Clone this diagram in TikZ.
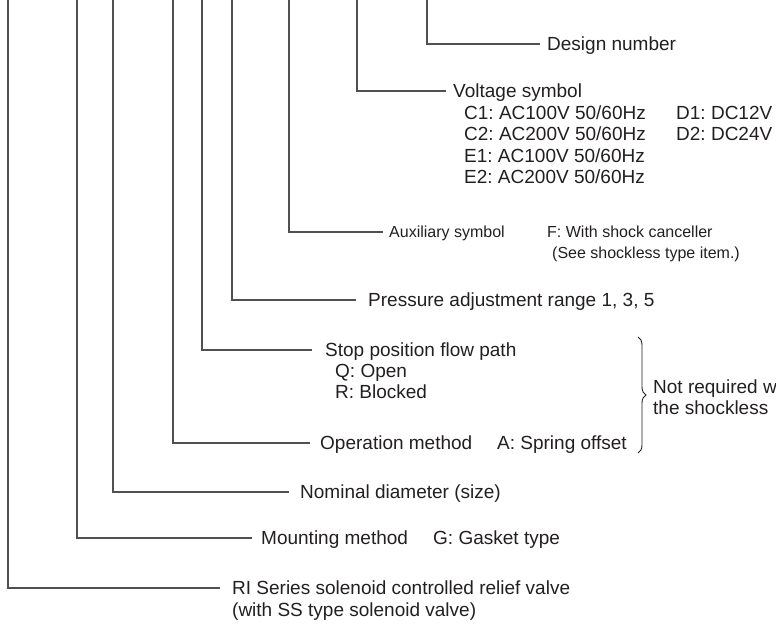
\documentclass[tikz,border=0pt]{standalone}
\usepackage{fontspec}
\setmainfont{Liberation Sans}
\usetikzlibrary{decorations.pathreplacing}
\definecolor{leadgray}{HTML}{505050}
\definecolor{txtblack}{HTML}{231F20}
\frenchspacing
\tikzset{
  lbl/.style={anchor=west, inner sep=0pt, text height=13.6pt, text depth=0pt,
    text=txtblack, font=\fontsize{19}{21.5}\selectfont},
  smalllbl/.style={lbl, text height=11.5pt, font=\fontsize{16}{19}\selectfont},
  lead/.style={draw=leadgray, line width=1.1pt},
}
\begin{document}
\begin{tikzpicture}[x=1pt,y=-1pt]
  \useasboundingbox (0,0) rectangle (776,626);

  \coordinate (tSeries) at (8,0);
  \coordinate (tMount) at (77,0);
  \coordinate (tSize) at (113,0);
  \coordinate (tOper) at (173,0);
  \coordinate (tStop) at (202,0);
  \coordinate (tPress) at (232,0);
  \coordinate (tAux) at (289,0);
  \coordinate (tVolt) at (357,0);
  \coordinate (tDesign) at (427,0);

  \node[lbl] (design) at (547,44) {Design number};
  \draw[lead] (tDesign) |- ([xshift=-7pt]design.west);

  \node[lbl] (volt) at (453,91) {Voltage symbol};
  \node[lbl] (c1) at (464,112.5) {C1: AC100V 50/60Hz};
  \node[lbl] (c2) at (464,134) {C2: AC200V 50/60Hz};
  \node[lbl] (e1) at (464,155.5) {E1: AC100V 50/60Hz};
  \node[lbl] (e2) at (464,177) {E2: AC200V 50/60Hz};
  \node[lbl] (d1) at (676,112.5) {D1: DC12V};
  \node[lbl] (d2) at (676,134) {D2: DC24V};
  \draw[lead] (tVolt) |- ([xshift=-7pt]volt.west);

  \node[smalllbl] (aux) at (389,232) {Auxiliary symbol};
  \node[smalllbl] (auxF) at (547,232) {F: With shock canceller};
  \node[smalllbl] (auxSee) at (552,253) {(See shockless type item.)};
  \draw[lead] (tAux) |- ([xshift=-6pt]aux.west);

  \node[lbl] (press) at (368,300) {Pressure adjustment range 1, 3, 5};
  \draw[lead] (tPress) |- ([xshift=-12pt]press.west);

  \node[lbl] (stop) at (325,350) {Stop position flow path};
  \node[lbl] (stopQ) at (335,371) {Q: Open};
  \node[lbl] (stopR) at (335,392) {R: Blocked};
  \draw[lead] (tStop) |- ([xshift=-13pt]stop.west);

  \node[lbl] (oper) at (320,443) {Operation method};
  \node[lbl] (operA) at (497,443) {A: Spring offset};
  \draw[lead] (tOper) |- ([xshift=-10pt]oper.west);

  \node[lbl] (size) at (300,492) {Nominal diameter (size)};
  \draw[lead] (tSize) |- ([xshift=-11pt]size.west);

  \node[lbl] (mount) at (261,538) {Mounting method};
  \node[lbl] (mountG) at (433,538) {G: Gasket type};
  \draw[lead] (tMount) |- ([xshift=-9pt]mount.west);

  \node[lbl] (series) at (232,588) {RI Series solenoid controlled relief valve};
  \node[lbl] (seriesSS) at (232,610) {(with SS type solenoid valve)};
  \draw[lead] (tSeries) |- ([xshift=-12pt]series.west);

  \coordinate (brTop) at (638,337);
  \coordinate (brBot) at (638,453);
  \draw[txtblack, line width=0.9pt, decorate, decoration={brace, amplitude=8pt}] (brTop) -- (brBot);
  \node[lbl] (note1) at (653,387) {Not required w};
  \node[lbl] (note2) at (653,408) {the shockless};
\end{tikzpicture}
\end{document}
